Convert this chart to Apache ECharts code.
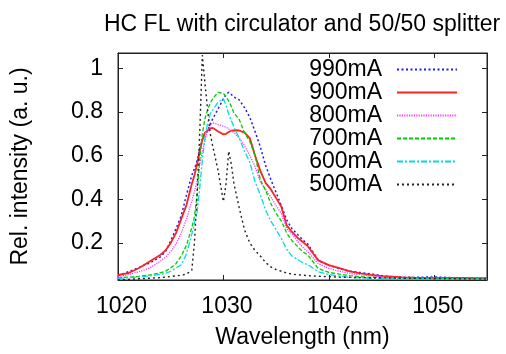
<!DOCTYPE html>
<html>
<head>
<meta charset="utf-8">
<script src="https://cdn.jsdelivr.net/npm/echarts@6/dist/echarts.min.js"></script>
<style>html,body{margin:0;padding:0;background:#fff}#c{width:506px;height:354px}</style>
</head>
<body>
<div id="c"></div>
<script>
const titleText = 'HC FL with circulator and 50/50 splitter';
const xName = 'Wavelength (nm)';
const yName = 'Rel. intensity (a. u.)';
const xTicks = [1020, 1030, 1040, 1050];
const yTicks = [0.2, 0.4, 0.6, 0.8, 1];
const seriesNames = ['990mA', '900mA', '800mA', '700mA', '600mA', '500mA'];
const wavelength = [1020,1021,1022,1023,1024,1024.5,1025,1025.5,1026,1026.5,1027,1027.25,1027.5,1027.75,1028,1028.25,1028.5,1028.75,1029,1029.5,1030,1030.25,1030.5,1030.75,1031,1031.5,1032,1032.5,1033,1033.5,1034,1034.5,1035,1035.5,1036,1036.5,1037,1037.5,1038,1039,1040,1041,1042,1043,1044,1045,1046,1047,1048,1050,1052,1054,1055];
const i990 = [.05,.068,.088,.108,.135,.16,.21,.265,.325,.42,.51,.54,.575,.63,.675,.70,.715,.745,.77,.815,.86,.88,.89,.88,.868,.855,.82,.775,.71,.64,.555,.49,.43,.37,.305,.265,.24,.215,.195,.12,.097,.082,.07,.064,.058,.05,.045,.043,.042,.044,.04,.037,.037];
const i900 = [.053,.062,.085,.115,.145,.165,.2,.245,.31,.375,.47,.51,.56,.62,.67,.705,.715,.725,.727,.71,.697,.70,.708,.714,.716,.715,.705,.68,.6,.53,.475,.445,.405,.365,.28,.25,.225,.205,.185,.12,.098,.084,.07,.06,.053,.048,.045,.042,.041,.04,.04,.038,.038];
const i800 = [.045,.055,.068,.085,.115,.135,.16,.195,.245,.31,.39,.435,.485,.56,.62,.67,.71,.74,.75,.742,.735,.73,.722,.715,.705,.68,.645,.6,.55,.48,.445,.41,.37,.335,.265,.24,.21,.18,.16,.105,.083,.07,.06,.054,.049,.045,.042,.04,.04,.039,.038,.036,.036];
const i700 = [.04,.043,.047,.053,.063,.07,.085,.105,.14,.19,.27,.32,.42,.58,.70,.77,.81,.84,.862,.89,.885,.87,.85,.825,.795,.765,.705,.665,.6,.49,.44,.38,.335,.3,.245,.21,.185,.16,.145,.082,.065,.057,.05,.045,.042,.04,.039,.038,.038,.037,.036,.035,.035];
const i600 = [.037,.04,.044,.049,.056,.06,.07,.085,.1,.15,.24,.29,.34,.45,.58,.68,.75,.79,.81,.845,.86,.83,.79,.76,.73,.68,.62,.57,.48,.42,.35,.30,.26,.22,.17,.14,.125,.11,.1,.068,.055,.048,.042,.04,.038,.037,.036,.035,.035,.035,.034,.034,.034];
const i500 = [.03,.033,.036,.038,.041,.043,.046,.049,.052,.057,.075,.2,.42,.7,1.06,.93,.81,.7,.64,.53,.39,.47,.62,.56,.47,.36,.26,.2,.165,.14,.11,.09,.078,.07,.062,.057,.054,.052,.05,.047,.045,.043,.042,.041,.04,.04,.039,.038,.038,.037,.036,.035,.035];

const values = [i990, i900, i800, i700, i600, i500];
const colors = ['#1a1aff', '#ff2020', '#ff33ff', '#00cc00', '#00dddd', '#222222'];
const dashes = [[2, 2.5], 'solid', [1.2, 1.2], [4, 2], [6, 2, 2, 2], [2, 3]];
const widths = [1.5, 1.8, 1.3, 1.3, 1.3, 1.4];

const chart = echarts.init(document.getElementById('c'), null, {renderer: 'canvas'});
const font = 'Liberation Sans';
const axisCol = '#222';
const series = seriesNames.map((n, k) => ({
  name: n, type: 'line', symbol: 'none', showSymbol: false, clip: true,
  data: wavelength.map((w, j) => [w, values[k][j]]),
  lineStyle: {color: colors[k], width: widths[k], type: dashes[k]},
  itemStyle: {color: colors[k]},
  z: 2 + k
}));
const xMin = 1020, xMax = 1055, yMin = 0.03, yMax = 1.07;
chart.setOption({
  animation: false,
  textStyle: {fontFamily: font},
  title: {text: titleText, left: 99, top: 8, textStyle: {fontSize: 23, fontWeight: 'normal', color: '#000', fontFamily: font}},
  grid: {left: 118, right: 19, top: 53, bottom: 72, show: true, borderColor: axisCol, borderWidth: 1},
  legend: {
    orient: 'vertical', right: 48, top: 58, padding: 0, itemGap: 0,
    itemWidth: 60, itemHeight: 23, align: 'right',
    data: seriesNames,
    itemStyle: {opacity: 0},
    textStyle: {fontSize: 23, color: '#000', fontFamily: font, padding: [0, 10, 0, 0]}
  },
  xAxis: [{
    type: 'value', min: xMin, max: xMax, position: 'bottom',
    axisLine: {show: true, onZero: false, lineStyle: {color: axisCol}},
    axisTick: {show: true, inside: true, length: 5, customValues: xTicks, lineStyle: {color: axisCol}},
    axisLabel: {customValues: xTicks, fontSize: 23, margin: 15, color: '#000', fontFamily: font, padding: [0, 0, 0, 7],
      formatter: v => String(v)},
    splitLine: {show: false},
    name: xName, nameLocation: 'middle', nameGap: 46,
    nameTextStyle: {fontSize: 23, color: '#000', fontFamily: font}
  }, {
    type: 'value', min: xMin, max: xMax, position: 'top',
    axisLine: {show: true, onZero: false, lineStyle: {color: axisCol}},
    axisTick: {show: true, inside: true, length: 5, customValues: xTicks, lineStyle: {color: axisCol}},
    axisLabel: {show: false}, splitLine: {show: false}
  }],
  yAxis: [{
    type: 'value', min: yMin, max: yMax, position: 'left',
    axisLine: {show: true, onZero: false, lineStyle: {color: axisCol}},
    axisTick: {show: true, inside: true, length: 5, customValues: yTicks, lineStyle: {color: axisCol}},
    axisLabel: {customValues: yTicks, fontSize: 23, margin: 15, color: '#000', fontFamily: font,
      formatter: v => (Math.abs(v - 1) < 1e-9 ? '1' : v.toFixed(1))},
    splitLine: {show: false},
    name: yName, nameLocation: 'middle', nameGap: 86,
    nameTextStyle: {fontSize: 23, color: '#000', fontFamily: font}
  }, {
    type: 'value', min: yMin, max: yMax, position: 'right',
    axisLine: {show: true, onZero: false, lineStyle: {color: axisCol}},
    axisTick: {show: true, inside: true, length: 5, customValues: yTicks, lineStyle: {color: axisCol}},
    axisLabel: {show: false}, splitLine: {show: false}
  }],
  series: series
});
</script>
</body>
</html>
